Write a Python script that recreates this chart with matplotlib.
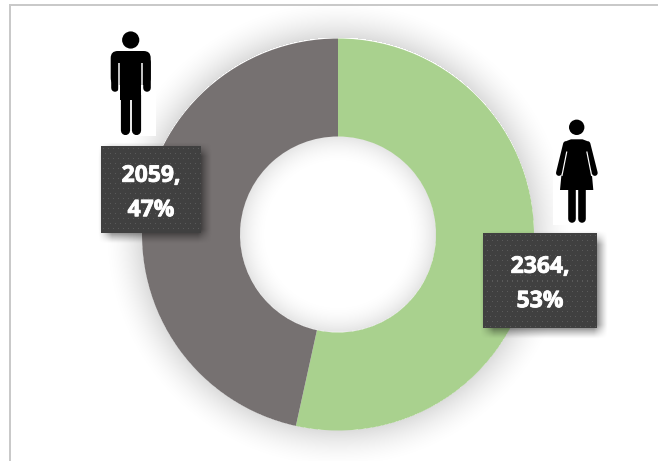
import numpy as np
import matplotlib
matplotlib.use("Agg")
import matplotlib.pyplot as plt
import matplotlib.patheffects as pe
from matplotlib.patches import Circle, FancyBboxPatch, Polygon, Rectangle

# Headcount by gender
genders = ["Female", "Male"]
counts = [2364, 2059]
colors = ["#A9D18E", "#767171"]

W, H = 658, 461
CENTER = (338, H - 234.5)
R_OUT, R_IN = 196, 98

fig = plt.figure(figsize=(W / 100, H / 100), dpi=100, facecolor="white")
ax = fig.add_axes([0, 0, 1, 1])


def Y(y):
    """Convert a top-down pixel row to the upward axis coordinate."""
    return H - y


def px(width):
    """Line width in points for a width given in pixels."""
    return width * 72 / fig.dpi


# Soft shadow around the ring and inside the hole
gx, gy = np.meshgrid(np.arange(W) + 0.5, np.arange(H) + 0.5)
dist = np.hypot(gx - CENTER[0], (H - gy) - CENTER[1])
outer = np.clip(1 - (dist - R_OUT) / 40, 0, 1) ** 1.8
inner = np.clip(1 - (R_IN - dist) / 30, 0, 1) ** 2
glow = np.where(dist >= R_OUT, outer * 0.14, np.where(dist <= R_IN, inner * 0.11, 0))
rgba = np.zeros((H, W, 4))
rgba[..., 3] = glow
ax.imshow(rgba, extent=(0, W, 0, H), origin="upper", zorder=1, aspect="auto")

# Ring
ax.pie(counts, colors=colors, startangle=90, counterclock=False,
       center=CENTER, radius=R_OUT, frame=True,
       wedgeprops=dict(width=R_OUT - R_IN, linewidth=0, zorder=2))

# Panel border: only the top and left edges are visible
ax.plot([10, W], [Y(5), Y(5)], color="#c9c9c9", lw=px(2), zorder=3)
ax.plot([10, 10], [Y(5), 0], color="#c9c9c9", lw=px(2), zorder=3)


def draw_male():
    ax.add_patch(Rectangle((108, Y(136)), 48, 108, fc="white", ec="none", zorder=4))
    k = dict(color="black", solid_capstyle="round", zorder=5)
    gap = dict(color="white", solid_capstyle="butt", lw=px(1.5), zorder=6)
    ax.add_patch(Circle((130.7, Y(40)), 8.6, fc="black", ec="none", zorder=5))
    ax.add_patch(FancyBboxPatch((117.7, Y(78)), 26, 20, boxstyle="round,pad=7",
                                fc="black", ec="none", zorder=5))
    ax.add_patch(Rectangle((120.2, Y(100)), 21, 30, fc="black", ec="none", zorder=5))
    ax.plot([114.5, 114.5], [Y(62), Y(88.5)], lw=px(7.6), **k)
    ax.plot([147, 147], [Y(62), Y(88.5)], lw=px(7.6), **k)
    ax.plot([125.4, 125.4], [Y(92), Y(130.5)], lw=px(9.2), **k)
    ax.plot([136, 136], [Y(92), Y(130.5)], lw=px(9.2), **k)
    ax.plot([119.4, 119.4], [Y(63), Y(95)], **gap)
    ax.plot([142.1, 142.1], [Y(63), Y(95)], **gap)


def draw_female():
    ax.add_patch(Rectangle((553, Y(225)), 47, 113, fc="white", ec="none", zorder=4))
    k = dict(color="black", solid_capstyle="round", zorder=5)
    gap = dict(color="white", solid_capstyle="butt", lw=px(1.2), zorder=6)
    ax.add_patch(Circle((576.7, Y(127.3)), 7.7, fc="black", ec="none", zorder=5))
    ax.add_patch(Polygon([(571, Y(139.3)), (582.5, Y(139.3)), (587, Y(141)), (589.5, Y(148)),
                          (593.3, Y(190)), (560, Y(190)), (564, Y(148)), (566.5, Y(141))],
                         fc="black", ec="none", zorder=5))
    ax.plot([566, 558.9], [Y(144), Y(173)], lw=px(5.8), **k)
    ax.plot([587.5, 594.8], [Y(144), Y(173)], lw=px(5.8), **k)
    ax.plot([572.2, 572.2], [Y(188), Y(219.5)], lw=px(7.6), **k)
    ax.plot([581.6, 581.6], [Y(188), Y(219.5)], lw=px(7.6), **k)
    ax.plot([566.8, 561.9], [Y(151.5), Y(176)], **gap)
    ax.plot([586.8, 591.7], [Y(151.5), Y(176)], **gap)


def draw_label(x0, y0, x1, y1, text, text_y):
    """Dark dotted callout with a blurred drop shadow."""
    off, blur = 4, 7
    ex = np.clip(np.minimum(gx - (x0 + off - blur), (x1 + off + blur) - gx) / (2 * blur), 0, 1)
    ey = np.clip(np.minimum(gy - (y0 + off - blur), (y1 + off + blur) - gy) / (2 * blur), 0, 1)
    shade = np.zeros((H, W, 4))
    shade[..., 3] = 0.6 * (ex * ey) ** 1.3
    ax.imshow(shade, extent=(0, W, 0, H), origin="upper", zorder=6, aspect="auto")

    w, h = int(x1 - x0), int(y1 - y0)
    tex = np.full((h, w, 3), 0x40 / 255)
    for i, r in enumerate(range(2, h, 5)):
        start = 2 if i % 2 == 0 else 4
        tex[r, start::5] = 0x5a / 255
    ax.imshow(tex, extent=(x0, x1, Y(y1), Y(y0)), origin="upper", zorder=7,
              aspect="auto", interpolation="nearest")
    ax.text((x0 + x1) / 2, Y(text_y), text, color="white", ha="center", va="center",
            family="Open Sans", weight="bold", fontsize=16.5, linespacing=1.58, zorder=8,
            path_effects=[pe.withStroke(linewidth=0.6, foreground="white")])


total = sum(counts)
labels = [f"{c},\n{round(100 * c / total)}%" for c in counts]

draw_male()
draw_female()
draw_label(101, 146, 201, 233, labels[1], 193)
draw_label(483, 234, 597, 328, labels[0], 284)

ax.set_xlim(0, W)
ax.set_ylim(0, H)
ax.set_aspect("auto")
ax.axis("off")

fig.savefig("out.png", dpi=100, facecolor="white")
